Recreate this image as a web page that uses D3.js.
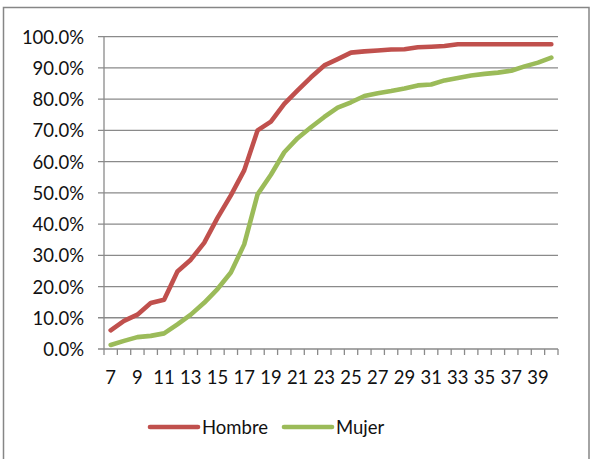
<!DOCTYPE html>
<html>
<head>
<meta charset="utf-8">
<script src="https://cdn.jsdelivr.net/npm/d3@7"></script>
<style>
  body { margin: 0; background: #fff; }
  svg text { font-family: Lato, "Open Sans", sans-serif; fill: #111; }
</style>
</head>
<body>
<div id="chart"></div>
<script>
// Data (cumulative %)
const ages = d3.range(7, 41);
const hombre = [6.0, 9.0, 11.0, 14.7, 15.8, 24.8, 28.6, 34.0, 42.0, 49.2, 57.2, 70.0, 72.8, 78.5,
  82.8, 87.0, 90.8, 92.8, 94.9, 95.3, 95.6, 95.9, 96.0, 96.6, 96.8, 97.0, 97.6, 97.6, 97.6, 97.6,
  97.6, 97.6, 97.6, 97.6];
const mujer = [1.3, 2.6, 3.8, 4.2, 5.0, 7.9, 11.0, 14.8, 19.2, 24.5, 33.5, 49.5, 55.8, 63.0,
  67.5, 71.0, 74.3, 77.3, 79.0, 81.0, 81.9, 82.6, 83.4, 84.4, 84.7, 86.0, 86.8, 87.6, 88.1, 88.5,
  89.1, 90.5, 91.7, 93.3];
const yTicks = d3.range(0, 101, 10);
const xLabels = ages.filter(a => a % 2 === 1);
const series = [
  { name: "Hombre", values: hombre, color: "#C0504D" },
  { name: "Mujer", values: mujer, color: "#9BBB59" }
];

const W = 591, H = 459;
const plot = { left: 104, right: 558, top: 36.7, bottom: 349 };
const fontSize = "18.5px";

const svg = d3.select("#chart").append("svg")
  .attr("width", W)
  .attr("height", H);

// chart border
svg.append("rect")
  .attr("x", 3.5).attr("y", 7.5)
  .attr("width", 585.5).attr("height", 470)
  .attr("fill", "none")
  .attr("stroke", "#868686")
  .attr("stroke-width", 1.5);

const x = d3.scaleBand().domain(ages).range([plot.left, plot.right]);
const y = d3.scaleLinear().domain([0, 100]).range([plot.bottom, plot.top]);

// gridlines
svg.append("g").selectAll("line")
  .data(yTicks)
  .join("line")
  .attr("x1", plot.left - 6).attr("x2", plot.right)
  .attr("y1", d => y(d)).attr("y2", d => y(d))
  .attr("stroke", "#8a8a8a")
  .attr("stroke-width", 1.3);

// y axis line
svg.append("line")
  .attr("x1", plot.left).attr("x2", plot.left)
  .attr("y1", plot.top).attr("y2", plot.bottom)
  .attr("stroke", "#8a8a8a").attr("stroke-width", 1.3);

// y labels
const yAxis = svg.append("g")
  .attr("transform", `translate(${plot.left - 20},0)`)
  .call(d3.axisLeft(y).tickValues(yTicks).tickSize(0).tickFormat(d => d.toFixed(1) + "%"));
yAxis.select(".domain").remove();
yAxis.selectAll("text")
  .attr("x", 0)
  .style("font-size", fontSize)
  .attr("dy", "0.35em");

// x tick marks between categories
const bounds = ages.map(a => x(a)).concat([plot.right]);
svg.append("g").selectAll("line")
  .data(bounds)
  .join("line")
  .attr("x1", d => d).attr("x2", d => d)
  .attr("y1", plot.bottom).attr("y2", plot.bottom + 6)
  .attr("stroke", "#8a8a8a").attr("stroke-width", 1.3);

// x labels
const xAxis = svg.append("g")
  .attr("transform", `translate(0,${plot.bottom})`)
  .call(d3.axisBottom(x).tickValues(xLabels).tickSize(0));
xAxis.select(".domain").remove();
xAxis.selectAll("text")
  .attr("y", 34.5)
  .attr("dy", 0)
  .style("font-size", fontSize);

// lines
const line = d3.line()
  .x((d, i) => x(ages[i]) + x.bandwidth() / 2)
  .y(d => y(d));

svg.append("g").selectAll("path")
  .data(series)
  .join("path")
  .attr("d", d => line(d.values))
  .attr("fill", "none")
  .attr("stroke", d => d.color)
  .attr("stroke-width", 4.6)
  .attr("stroke-linejoin", "round")
  .attr("stroke-linecap", "round");

// legend
const legend = svg.append("g").attr("transform", "translate(150,427)");
legend.selectAll("g")
  .data(series)
  .join("g")
  .attr("transform", (d, i) => `translate(${i * 134},0)`)
  .each(function (d) {
    const g = d3.select(this);
    g.append("line")
      .attr("x1", 0).attr("x2", 48)
      .attr("y1", 0).attr("y2", 0)
      .attr("stroke", d.color)
      .attr("stroke-width", 4.6)
      .attr("stroke-linecap", "round");
    g.append("text")
      .attr("x", 52)
      .attr("y", 6.5)
      .style("font-size", fontSize)
      .text(d.name);
  });
</script>
</body>
</html>
